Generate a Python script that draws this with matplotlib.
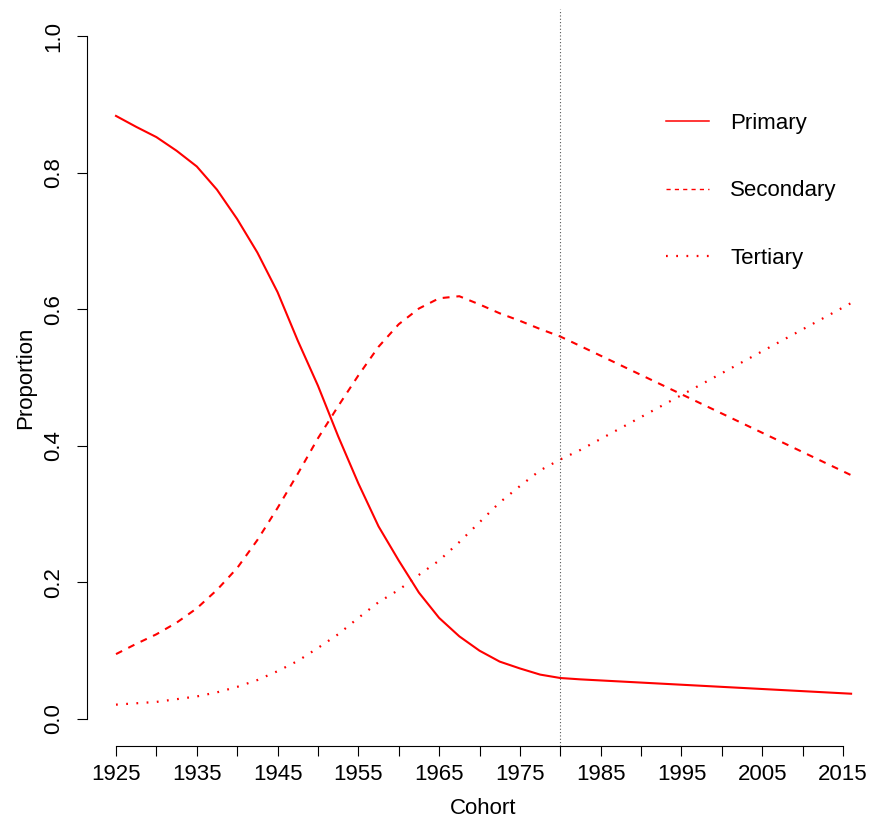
import matplotlib
matplotlib.use("Agg")
import matplotlib.pyplot as plt

plt.rcParams["font.family"] = ["Liberation Sans", "DejaVu Sans"]

years = [1925, 1927.5, 1930, 1932.5, 1935, 1937.5, 1940, 1942.5, 1945, 1947.5,
         1950, 1952.5, 1955, 1957.5, 1960, 1962.5, 1965, 1967.5, 1970, 1972.5,
         1975, 1977.5, 1980, 1982.5, 2016]

primary = [0.883, 0.867, 0.852, 0.832, 0.809, 0.775, 0.732, 0.683, 0.625, 0.554,
           0.488, 0.414, 0.345, 0.282, 0.232, 0.185, 0.148, 0.121, 0.100, 0.084,
           0.074, 0.065, 0.060, 0.058, 0.037]
secondary = [0.095, 0.110, 0.124, 0.141, 0.162, 0.189, 0.221, 0.262, 0.309, 0.359,
             0.411, 0.458, 0.503, 0.545, 0.578, 0.601, 0.616, 0.619, 0.607, 0.594,
             0.583, 0.571, 0.560, 0.546, 0.357]
tertiary = [0.021, 0.023, 0.025, 0.029, 0.033, 0.039, 0.047, 0.057, 0.070, 0.085,
            0.104, 0.124, 0.148, 0.171, 0.189, 0.211, 0.232, 0.259, 0.288, 0.317,
            0.341, 0.364, 0.380, 0.394, 0.609]

cutoff_year = 1980

fig = plt.figure(figsize=(8.72, 8.19), dpi=100)
ax = fig.add_axes([86.6 / 872, (819 - 746.3) / 819, (880.5 - 86.6) / 872, (746.3 - 8.7) / 819])

ax.plot(years, primary, color="red", lw=1.5, ls="-", label="Primary")
ax.plot(years, secondary, color="red", lw=1.5, ls=(0, (3.3, 3.3)), label="Secondary")
ax.plot(years, tertiary, color="red", lw=1.6, ls=(0, (0.8, 3.8)), label="Tertiary")

ax.axvline(cutoff_year, color="#555555", lw=0.8, ls=(0, (1, 2)))

ax.set_xlim(1921.36, 2019.64)
ax.set_ylim(-0.04, 1.04)

for s in ["top", "right"]:
    ax.spines[s].set_visible(False)
ax.spines["left"].set_bounds(0, 1)
ax.spines["bottom"].set_bounds(1925, 2015)

ax.set_xticks(range(1925, 2016, 5))
ax.set_xticklabels([str(y) if (y - 1925) % 10 == 0 else "" for y in range(1925, 2016, 5)])
ax.set_yticks([0, 0.2, 0.4, 0.6, 0.8, 1.0])
ax.set_yticklabels(["0.0", "0.2", "0.4", "0.6", "0.8", "1.0"], rotation=90, va="center")
ax.tick_params(length=7, width=0.8, labelsize=16)
ax.tick_params(axis="x", pad=6)
ax.tick_params(axis="y", pad=9)

ax.set_xlabel("Cohort", fontsize=16, labelpad=9)
ax.set_ylabel("Proportion", fontsize=16, labelpad=5)

leg = ax.legend(loc="upper right", bbox_to_anchor=(0.97, 0.886), frameon=False, fontsize=16,
                handlelength=1.95, handletextpad=0.95, labelspacing=2.1)
leg.get_lines()[0].set_linewidth(1.1)
leg.get_lines()[1].set_linewidth(1.0)
leg.get_lines()[1].set_linestyle((0, (3, 3)))

fig.savefig("out.png", dpi=100)
